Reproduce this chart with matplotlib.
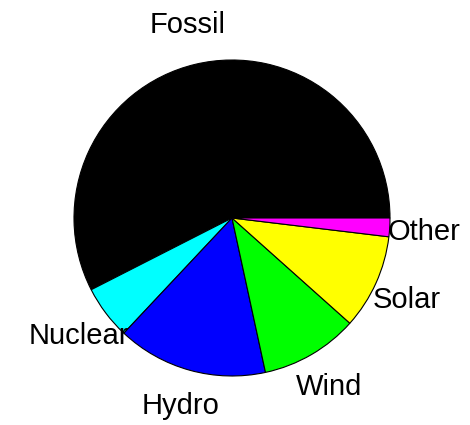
import matplotlib

matplotlib.use("Agg")
import matplotlib.pyplot as plt

# data (counterclockwise from 3 o'clock)
labels = ["Fossil", "Nuclear", "Hydro", "Wind", "Solar", "Other"]
shares = [57.5, 5.5, 15.4, 10.0, 9.7, 1.9]
colors = ["#000000", "#00FFFF", "#0000FF", "#00FF00", "#FFFF00", "#FF00FF"]

W, H = 470, 425
CX, CY, R = 232, 218, 158  # pixel centre / radius in the reference

plt.rcParams["font.family"] = ["Liberation Sans", "DejaVu Sans"]

fig = plt.figure(figsize=(W / 100, H / 100), dpi=100)
ax = fig.add_axes([0, 0, 1, 1])

wedges, texts = ax.pie(
    shares,
    labels=labels,
    colors=colors,
    startangle=0,
    counterclock=True,
    labeldistance=1.215,
    wedgeprops={"edgecolor": "black", "linewidth": 0.8},
    textprops={"fontsize": 21, "color": "black"},
)
for t in texts:
    t.set_horizontalalignment("center")
    t.set_verticalalignment("center")
    x, y = t.get_position()
    # small nudges so label baselines sit where the reference has them
    if t.get_text() == "Fossil":
        t.set_position((x, y + 6 / R))
    else:
        t.set_position((x, y - 3 / R))

ax.set_aspect("auto")
ax.set_xlim(-CX / R, (W - CX) / R)
ax.set_ylim(-(H - CY) / R, CY / R)
ax.axis("off")

fig.savefig("out.png", dpi=100, facecolor="white")
